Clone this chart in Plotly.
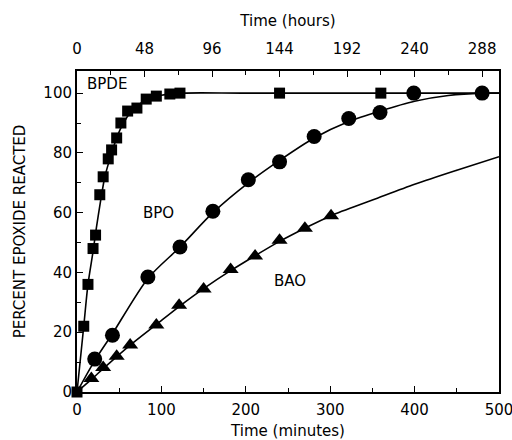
import plotly.graph_objects as go

# ---- data (time in minutes, percent reacted) ----
bpde_x = [0, 8, 13, 19, 22, 27, 31, 37, 41, 47, 52, 60, 71, 82, 94, 110, 122, 240, 360]
bpde_y = [0, 22, 36, 48, 52.5, 66, 72, 78, 81, 85, 90, 94, 95, 98, 99, 99.7, 100, 100, 100]

bpo_x = [21, 42, 84, 122, 161, 203, 240, 281, 322, 359, 399, 480]
bpo_y = [11, 19, 38.5, 48.5, 60.5, 71, 77, 85.5, 91.5, 93.5, 100, 100]

bao_x = [17, 31, 47, 63, 94, 121, 150, 182, 211, 240, 270, 301]
bao_y = [4.5, 8.2, 12, 15.7, 22.4, 29, 34.5, 41, 45.5, 50.8, 54.8, 59]

# smooth curves as drawn in the picture
bpde_curve_x = [0, 8, 13, 19, 23, 28, 33, 40, 47, 55, 65, 80, 100, 125, 200, 500]
bpde_curve_y = [0, 22, 36, 47, 55, 64, 72, 79, 85, 90, 94, 97.5, 99.3, 100, 100, 100]
bpo_curve_x = [0, 21, 42, 84, 122, 161, 203, 240, 281, 322, 359, 400, 440, 480, 500]
bpo_curve_y = [0, 10.5, 19.5, 38, 48.5, 60, 70, 77.5, 85, 90.5, 94, 97.3, 99.2, 100, 100]
bao_curve_x = [0, 17, 31, 47, 63, 94, 121, 150, 182, 211, 240, 270, 301, 350, 400, 450, 500]
bao_curve_y = [0, 4.2, 7.8, 11.8, 15.7, 22.6, 28.6, 34.6, 40.6, 45.6, 50.4, 54.8, 59, 64.2, 69.5, 74.2, 78.7]

labels = [("BPDE", 35, 103), ("BPO", 96, 60), ("BAO", 252, 37)]

x_ticks = [0, 100, 200, 300, 400, 500]
y_ticks = [0, 20, 40, 60, 80, 100]
hour_ticks = [0, 48, 96, 144, 192, 240, 288]

FONT = "DejaVu Sans"
FS = 15
fig = go.Figure()

line_style = dict(color="black", width=1.6, shape="spline", smoothing=0.8)
for cx, cy in [(bpde_curve_x, bpde_curve_y), (bpo_curve_x, bpo_curve_y), (bao_curve_x, bao_curve_y)]:
    fig.add_trace(go.Scatter(x=cx, y=cy, mode="lines", line=line_style,
                             showlegend=False, hoverinfo="skip", cliponaxis=False))

fig.add_trace(go.Scatter(x=bpde_x, y=bpde_y, mode="markers", cliponaxis=False,
                         marker=dict(symbol="square", size=11, color="black"), showlegend=False))
fig.add_trace(go.Scatter(x=bpo_x, y=bpo_y, mode="markers", cliponaxis=False,
                         marker=dict(symbol="circle", size=15, color="black"), showlegend=False))
fig.add_trace(go.Scatter(x=bao_x, y=bao_y, mode="markers", cliponaxis=False,
                         marker=dict(symbol="triangle-up", size=14, color="black"), showlegend=False))

# invisible trace to activate the top (hours) axis
fig.add_trace(go.Scatter(x=[0], y=[0], xaxis="x2", mode="markers",
                         marker=dict(opacity=0), showlegend=False, hoverinfo="skip"))

for text, x, y in labels:
    fig.add_annotation(x=x, y=y, text=text, showarrow=False,
                       font=dict(family=FONT, size=FS, color="black"))

fig.update_layout(
    width=512, height=440,
    margin=dict(l=77, r=13, t=71, b=48),
    paper_bgcolor="white", plot_bgcolor="white",
    font=dict(family=FONT, size=FS, color="black"),
    xaxis=dict(range=[0, 500], tickvals=x_ticks, ticks="inside", ticklen=6, tickwidth=1.2,
               tickcolor="black", showline=True, linecolor="black", linewidth=2, mirror=True,
               showgrid=False, zeroline=False, automargin=False, ticklabelstandoff=3,
               ticklabeloverflow="allow",
               minor=dict(dtick=50, ticks="inside", ticklen=4, tickcolor="black"),
               title=dict(text="Time (minutes)", standoff=10, font=dict(size=FS))),
    xaxis2=dict(range=[0, 300], overlaying="x", side="top", tickvals=hour_ticks,
                ticks="inside", ticklen=6, tickwidth=1.2, tickcolor="black",
                showline=True, linecolor="black", linewidth=2, showgrid=False, zeroline=False,
                automargin=False, ticklabelstandoff=9, ticklabeloverflow="allow",
                minor=dict(tickvals=[24, 72, 120, 168, 216, 264], ticks="inside", ticklen=4, tickcolor="black"),
                title=dict(text="Time (hours)", standoff=10, font=dict(size=FS))),
    yaxis=dict(range=[0, 107.4], tickvals=y_ticks, ticks="inside", ticklen=6, tickwidth=1.2,
               tickcolor="black", showline=True, linecolor="black", linewidth=2, mirror=True,
               showgrid=False, zeroline=False, automargin=False,
               minor=dict(dtick=10, ticks="inside", ticklen=4, tickcolor="black"),
               title=dict(text="PERCENT EPOXIDE REACTED", standoff=14, font=dict(size=FS))),
)

fig.write_html("out.html", config={"displayModeBar": False},
               post_script="document.body.style.margin='0';")
